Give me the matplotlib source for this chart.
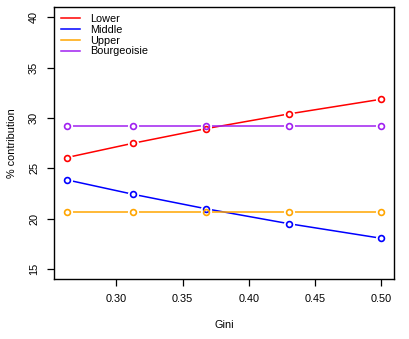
import matplotlib
matplotlib.use("Agg")
import matplotlib.pyplot as plt

plt.rcParams["font.family"] = ["Liberation Sans", "DejaVu Sans"]

# === Data ===
gini = [0.2627, 0.3126, 0.368, 0.430, 0.4997]
lower = [26.07, 27.49, 28.95, 30.40, 31.86]
middle = [23.85, 22.42, 20.97, 19.50, 18.05]
upper = [20.70, 20.70, 20.70, 20.70, 20.70]
bourgeoisie = [29.25, 29.25, 29.25, 29.25, 29.25]

series = [("Lower", lower, "#FF0000"),
          ("Middle", middle, "#0000FF"),
          ("Upper", upper, "#FFA500"),
          ("Bourgeoisie", bourgeoisie, "#A020F0")]

fig = plt.figure(figsize=(4.09, 3.39), dpi=100)
ax = fig.add_axes([0.1328, 0.177, 0.9633 - 0.1328, 0.9785 - 0.177])

for name, vals, col in series:
    ax.plot(gini, vals, color=col, lw=1.1, label=name, zorder=2)
    # white gap around points (R type="b")
    ax.plot(gini, vals, ls="none", marker="o", ms=7, mfc="white", mec="white", zorder=3)
    ax.plot(gini, vals, ls="none", marker="o", ms=4.2, mfc="none", mec=col, mew=1.2, zorder=4)

ax.set_xlim(0.2532, 0.5095)
ax.set_ylim(14, 41)
ax.set_xticks([0.30, 0.35, 0.40, 0.45, 0.50])
ax.set_xticklabels(["0.30", "0.35", "0.40", "0.45", "0.50"])
ax.set_yticks([15, 20, 25, 30, 35, 40])
ax.set_yticklabels(["15", "20", "25", "30", "35", "40"], rotation=90, va="center")
ax.tick_params(direction="out", length=5, width=0.9, labelsize=7.8, pad=6)
for s in ax.spines.values():
    s.set_linewidth(1.0)

ax.set_xlabel("Gini", fontsize=7.8, labelpad=11)
ax.set_ylabel("% contribution", fontsize=7.8, labelpad=9)

ax.legend(loc="upper left", frameon=False, fontsize=7.8, handlelength=1.8,
          handletextpad=0.9, labelspacing=0.08, borderaxespad=0.2,
          bbox_to_anchor=(0.0, 1.0))

fig.savefig("out.png", dpi=100)
